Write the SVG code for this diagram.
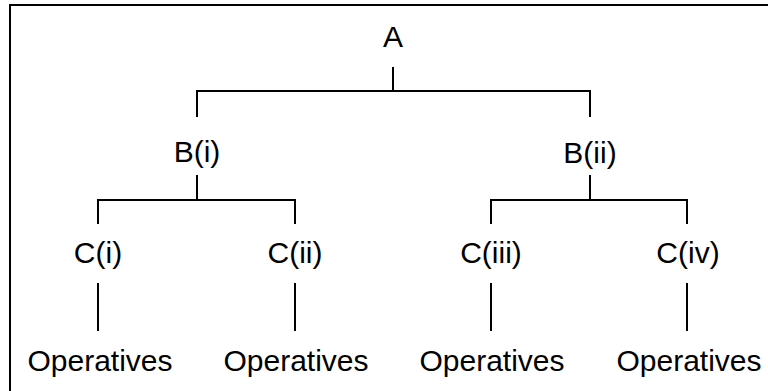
<svg xmlns="http://www.w3.org/2000/svg" width="768" height="391" viewBox="0 0 768 391">
  <style>
    .lbl { font-family: "Liberation Sans", Arial, sans-serif; font-size: 30px; fill: #000; text-anchor: middle; }
    .ln { stroke: #000; stroke-width: 2; fill: none; }
  </style>
  <rect width="768" height="391" fill="#fff"/>
  <!-- frame (top and left edges) -->
  <path class="ln" d="M10 391 V5 H768" stroke-width="2.2"/>

  <g id="connectors">
    <path class="ln" d="M393 67 V91 M197 117 V91 H590 V117"/>
    <path class="ln" d="M197 175 V200 M98 224 V200 H295 V224"/>
    <path class="ln" d="M590 175 V200 M491 224 V200 H687 V224"/>
    <path class="ln" d="M98 283 V331 M295 283 V331 M491 283 V331 M687 283 V331"/>
  </g>

  <g id="node-a"><text class="lbl" x="393" y="47">A</text></g>
  <g id="node-b1"><text class="lbl" x="197" y="162">B(i)</text></g>
  <g id="node-b2"><text class="lbl" x="590" y="163">B(ii)</text></g>
  <g id="node-c1"><text class="lbl" x="98" y="263">C(i)</text></g>
  <g id="node-c2"><text class="lbl" x="295" y="263">C(ii)</text></g>
  <g id="node-c3"><text class="lbl" x="491" y="263">C(iii)</text></g>
  <g id="node-c4"><text class="lbl" x="688" y="263">C(iv)</text></g>
  <g id="node-op1"><text class="lbl" x="100" y="371">Operatives</text></g>
  <g id="node-op2"><text class="lbl" x="296" y="371">Operatives</text></g>
  <g id="node-op3"><text class="lbl" x="492" y="371">Operatives</text></g>
  <g id="node-op4"><text class="lbl" x="689" y="371">Operatives</text></g>
</svg>
